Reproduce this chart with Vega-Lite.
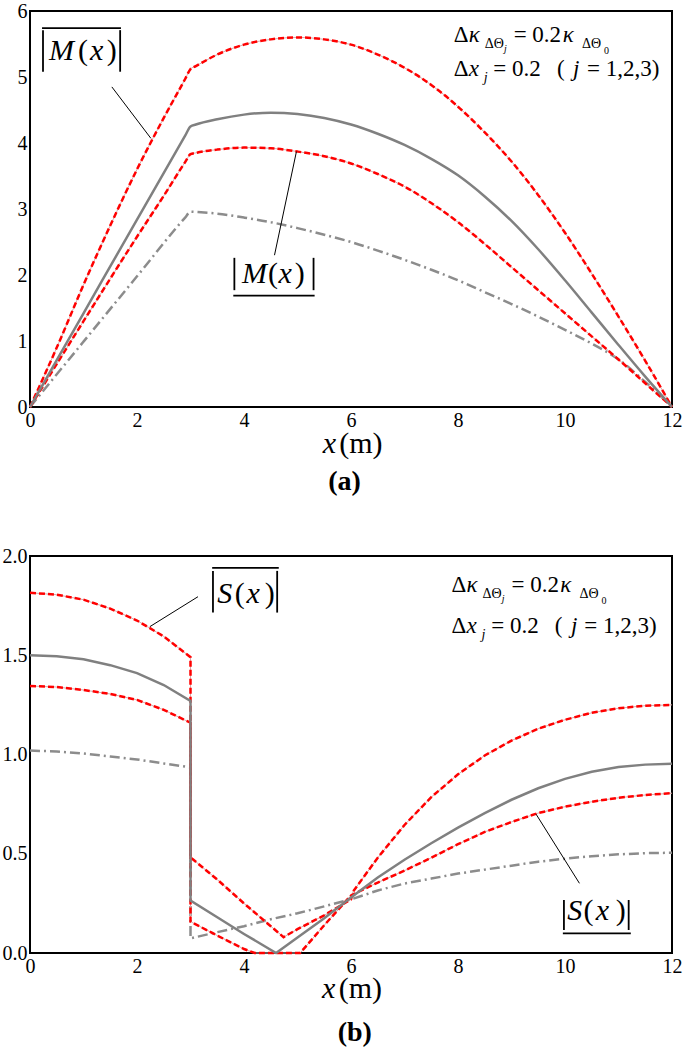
{
"$schema": "https://vega.github.io/schema/vega-lite/v6.json",
"background": "white",
"padding": {"left": 1, "top": 0, "right": 0, "bottom": 0},
"bounds": "flush",
"spacing": 149,
"config": {
  "font": "'Liberation Serif', 'Times New Roman', 'DejaVu Serif', serif",
  "view": {"stroke": "black", "strokeWidth": 2},
  "text": {"font": "'Liberation Serif', 'Times New Roman', 'DejaVu Serif', serif", "color": "black"},
  "axis": {"grid": false, "domain": false, "ticks": false, "labelFont": "'Liberation Serif', 'Times New Roman', 'DejaVu Serif', serif", "labelFontSize": 20, "labelColor": "black", "labelPadding": 3, "labelFlush": false, "labelOverlap": false},
  "axisY": {"minExtent": 28, "maxExtent": 28}
},
"datasets": {
"a": [
{"s":"u","i":0,"x":0,"y":0},{"s":"u","i":1,"x":0.5,"y":0.9},{"s":"u","i":2,"x":1,"y":1.85},{"s":"u","i":3,"x":1.5,"y":2.75},{"s":"u","i":4,"x":2,"y":3.6},{"s":"u","i":5,"x":2.5,"y":4.38},{"s":"u","i":6,"x":2.9,"y":4.97},{"s":"u","i":7,"x":3,"y":5.12},{"s":"u","i":8,"x":3.1,"y":5.165},{"s":"u","i":9,"x":3.5,"y":5.34},{"s":"u","i":10,"x":4,"y":5.49},{"s":"u","i":11,"x":4.5,"y":5.57},{"s":"u","i":12,"x":5,"y":5.6},{"s":"u","i":13,"x":5.5,"y":5.57},{"s":"u","i":14,"x":6,"y":5.49},{"s":"u","i":15,"x":6.5,"y":5.34},{"s":"u","i":16,"x":7,"y":5.14},{"s":"u","i":17,"x":7.5,"y":4.88},{"s":"u","i":18,"x":8,"y":4.55},{"s":"u","i":19,"x":8.5,"y":4.16},{"s":"u","i":20,"x":9,"y":3.72},{"s":"u","i":21,"x":9.5,"y":3.21},{"s":"u","i":22,"x":10,"y":2.64},{"s":"u","i":23,"x":10.5,"y":2.02},{"s":"u","i":24,"x":11,"y":1.37},{"s":"u","i":25,"x":11.5,"y":0.7},{"s":"u","i":26,"x":12,"y":0},
{"s":"m","i":0,"x":0,"y":0},{"s":"m","i":1,"x":1,"y":1.42},{"s":"m","i":2,"x":2,"y":2.84},{"s":"m","i":3,"x":2.9,"y":4.11},{"s":"m","i":4,"x":3,"y":4.25},{"s":"m","i":5,"x":3.1,"y":4.28},{"s":"m","i":6,"x":3.5,"y":4.36},{"s":"m","i":7,"x":4,"y":4.43},{"s":"m","i":8,"x":4.5,"y":4.46},{"s":"m","i":9,"x":5,"y":4.44},{"s":"m","i":10,"x":5.5,"y":4.38},{"s":"m","i":11,"x":6,"y":4.28},{"s":"m","i":12,"x":6.5,"y":4.14},{"s":"m","i":13,"x":7,"y":3.97},{"s":"m","i":14,"x":7.5,"y":3.76},{"s":"m","i":15,"x":8,"y":3.51},{"s":"m","i":16,"x":8.5,"y":3.19},{"s":"m","i":17,"x":9,"y":2.82},{"s":"m","i":18,"x":9.5,"y":2.39},{"s":"m","i":19,"x":10,"y":1.92},{"s":"m","i":20,"x":10.5,"y":1.43},{"s":"m","i":21,"x":11,"y":0.94},{"s":"m","i":22,"x":11.5,"y":0.46},{"s":"m","i":23,"x":12,"y":0},
{"s":"l","i":0,"x":0,"y":0},{"s":"l","i":1,"x":1,"y":1.3},{"s":"l","i":2,"x":2,"y":2.58},{"s":"l","i":3,"x":2.5,"y":3.2},{"s":"l","i":4,"x":2.9,"y":3.71},{"s":"l","i":5,"x":3,"y":3.83},{"s":"l","i":6,"x":3.1,"y":3.85},{"s":"l","i":7,"x":3.5,"y":3.9},{"s":"l","i":8,"x":4,"y":3.93},{"s":"l","i":9,"x":4.5,"y":3.92},{"s":"l","i":10,"x":5,"y":3.87},{"s":"l","i":11,"x":5.5,"y":3.8},{"s":"l","i":12,"x":6,"y":3.69},{"s":"l","i":13,"x":6.5,"y":3.53},{"s":"l","i":14,"x":7,"y":3.34},{"s":"l","i":15,"x":7.5,"y":3.09},{"s":"l","i":16,"x":8,"y":2.8},{"s":"l","i":17,"x":8.5,"y":2.47},{"s":"l","i":18,"x":9,"y":2.12},{"s":"l","i":19,"x":9.5,"y":1.77},{"s":"l","i":20,"x":10,"y":1.42},{"s":"l","i":21,"x":10.5,"y":1.07},{"s":"l","i":22,"x":11,"y":0.72},{"s":"l","i":23,"x":11.5,"y":0.36},{"s":"l","i":24,"x":12,"y":0},
{"s":"d","i":0,"x":0,"y":0},{"s":"d","i":1,"x":1,"y":0.99},{"s":"d","i":2,"x":2,"y":1.98},{"s":"d","i":3,"x":2.9,"y":2.87},{"s":"d","i":4,"x":3,"y":2.96},{"s":"d","i":5,"x":3.1,"y":2.955},{"s":"d","i":6,"x":3.5,"y":2.93},{"s":"d","i":7,"x":4,"y":2.87},{"s":"d","i":8,"x":4.5,"y":2.8},{"s":"d","i":9,"x":5,"y":2.71},{"s":"d","i":10,"x":5.5,"y":2.61},{"s":"d","i":11,"x":6,"y":2.5},{"s":"d","i":12,"x":6.5,"y":2.37},{"s":"d","i":13,"x":7,"y":2.23},{"s":"d","i":14,"x":7.5,"y":2.08},{"s":"d","i":15,"x":8,"y":1.92},{"s":"d","i":16,"x":8.5,"y":1.74},{"s":"d","i":17,"x":9,"y":1.56},{"s":"d","i":18,"x":9.5,"y":1.37},{"s":"d","i":19,"x":10,"y":1.17},{"s":"d","i":20,"x":10.5,"y":0.96},{"s":"d","i":21,"x":11,"y":0.72},{"s":"d","i":22,"x":11.5,"y":0.38},{"s":"d","i":23,"x":12,"y":0}
],
"b": [
{"s":"u","i":0,"x":0,"y":1.815},{"s":"u","i":1,"x":0.5,"y":1.805},{"s":"u","i":2,"x":1,"y":1.78},{"s":"u","i":3,"x":1.5,"y":1.735},{"s":"u","i":4,"x":2,"y":1.675},{"s":"u","i":5,"x":2.5,"y":1.595},{"s":"u","i":6,"x":3,"y":1.49},{"s":"u","i":7,"x":3,"y":0.482},{"s":"u","i":8,"x":3.5,"y":0.37},{"s":"u","i":9,"x":4,"y":0.25},{"s":"u","i":10,"x":4.5,"y":0.135},{"s":"u","i":11,"x":4.74,"y":0.08},{"s":"u","i":12,"x":5,"y":0.12},{"s":"u","i":13,"x":5.5,"y":0.19},{"s":"u","i":14,"x":6,"y":0.27},{"s":"u","i":15,"x":6.04,"y":0.31},{"s":"u","i":16,"x":6.5,"y":0.48},{"s":"u","i":17,"x":7,"y":0.645},{"s":"u","i":18,"x":7.5,"y":0.785},{"s":"u","i":19,"x":8,"y":0.9},{"s":"u","i":20,"x":8.5,"y":0.995},{"s":"u","i":21,"x":9,"y":1.07},{"s":"u","i":22,"x":9.5,"y":1.13},{"s":"u","i":23,"x":10,"y":1.175},{"s":"u","i":24,"x":10.5,"y":1.21},{"s":"u","i":25,"x":11,"y":1.233},{"s":"u","i":26,"x":11.5,"y":1.246},{"s":"u","i":27,"x":12,"y":1.25},
{"s":"m","i":0,"x":0,"y":1.5},{"s":"m","i":1,"x":0.5,"y":1.495},{"s":"m","i":2,"x":1,"y":1.48},{"s":"m","i":3,"x":1.5,"y":1.45},{"s":"m","i":4,"x":2,"y":1.41},{"s":"m","i":5,"x":2.5,"y":1.35},{"s":"m","i":6,"x":3,"y":1.27},{"s":"m","i":7,"x":3,"y":0.264},{"s":"m","i":8,"x":3.5,"y":0.18},{"s":"m","i":9,"x":4,"y":0.096},{"s":"m","i":10,"x":4.6,"y":0},{"s":"m","i":11,"x":5,"y":0.078},{"s":"m","i":12,"x":5.5,"y":0.175},{"s":"m","i":13,"x":6,"y":0.28},{"s":"m","i":14,"x":6.5,"y":0.38},{"s":"m","i":15,"x":7,"y":0.47},{"s":"m","i":16,"x":7.5,"y":0.553},{"s":"m","i":17,"x":8,"y":0.632},{"s":"m","i":18,"x":8.5,"y":0.705},{"s":"m","i":19,"x":9,"y":0.772},{"s":"m","i":20,"x":9.5,"y":0.83},{"s":"m","i":21,"x":10,"y":0.877},{"s":"m","i":22,"x":10.5,"y":0.913},{"s":"m","i":23,"x":11,"y":0.937},{"s":"m","i":24,"x":11.5,"y":0.949},{"s":"m","i":25,"x":12,"y":0.953},
{"s":"l","i":0,"x":0,"y":1.345},{"s":"l","i":1,"x":0.5,"y":1.34},{"s":"l","i":2,"x":1,"y":1.325},{"s":"l","i":3,"x":1.5,"y":1.305},{"s":"l","i":4,"x":2,"y":1.275},{"s":"l","i":5,"x":2.5,"y":1.225},{"s":"l","i":6,"x":3,"y":1.16},{"s":"l","i":7,"x":3,"y":0.158},{"s":"l","i":8,"x":3.5,"y":0.088},{"s":"l","i":9,"x":4,"y":0.02},{"s":"l","i":10,"x":4.2,"y":0},{"s":"l","i":11,"x":5.05,"y":0},{"s":"l","i":12,"x":5.5,"y":0.14},{"s":"l","i":13,"x":6,"y":0.29},{"s":"l","i":14,"x":6.5,"y":0.355},{"s":"l","i":15,"x":7,"y":0.415},{"s":"l","i":16,"x":7.5,"y":0.48},{"s":"l","i":17,"x":8,"y":0.548},{"s":"l","i":18,"x":8.5,"y":0.61},{"s":"l","i":19,"x":9,"y":0.66},{"s":"l","i":20,"x":9.5,"y":0.705},{"s":"l","i":21,"x":10,"y":0.737},{"s":"l","i":22,"x":10.5,"y":0.762},{"s":"l","i":23,"x":11,"y":0.782},{"s":"l","i":24,"x":11.5,"y":0.796},{"s":"l","i":25,"x":12,"y":0.805},
{"s":"d","i":0,"x":0,"y":1.02},{"s":"d","i":1,"x":0.5,"y":1.015},{"s":"d","i":2,"x":1,"y":1.005},{"s":"d","i":3,"x":1.5,"y":0.99},{"s":"d","i":4,"x":2,"y":0.975},{"s":"d","i":5,"x":2.5,"y":0.955},{"s":"d","i":6,"x":3,"y":0.935},{"s":"d","i":7,"x":3,"y":0.074},{"s":"d","i":8,"x":3.5,"y":0.105},{"s":"d","i":9,"x":4,"y":0.135},{"s":"d","i":10,"x":4.5,"y":0.17},{"s":"d","i":11,"x":5,"y":0.2},{"s":"d","i":12,"x":5.5,"y":0.235},{"s":"d","i":13,"x":6,"y":0.27},{"s":"d","i":14,"x":6.5,"y":0.315},{"s":"d","i":15,"x":7,"y":0.35},{"s":"d","i":16,"x":7.5,"y":0.375},{"s":"d","i":17,"x":8,"y":0.4},{"s":"d","i":18,"x":8.5,"y":0.42},{"s":"d","i":19,"x":9,"y":0.44},{"s":"d","i":20,"x":9.5,"y":0.46},{"s":"d","i":21,"x":10,"y":0.475},{"s":"d","i":22,"x":10.5,"y":0.488},{"s":"d","i":23,"x":11,"y":0.497},{"s":"d","i":24,"x":11.5,"y":0.503},{"s":"d","i":25,"x":12,"y":0.505}
],
"seg": [
{"p":"a","k":"lead","x":1.53,"y":4.85,"x2":2.26,"y2":4.07},
{"p":"a","k":"lead","x":4.57,"y":2.3,"x2":4.98,"y2":3.87},
{"p":"a","k":"bar","x":0.243,"y":5.71,"x2":0.243,"y2":5.08},
{"p":"a","k":"bar","x":1.685,"y":5.71,"x2":1.685,"y2":5.08},
{"p":"a","k":"bar","x":0.225,"y":5.74,"x2":1.7,"y2":5.74},
{"p":"a","k":"bar","x":3.82,"y":2.26,"x2":3.82,"y2":1.77},
{"p":"a","k":"bar","x":5.3,"y":2.26,"x2":5.3,"y2":1.77},
{"p":"a","k":"bar","x":3.8,"y":1.686,"x2":5.32,"y2":1.686},
{"p":"b","k":"lead","x":3.14,"y":1.795,"x2":2.24,"y2":1.644},
{"p":"b","k":"lead","x":10.27,"y":0.351,"x2":9.46,"y2":0.699},
{"p":"b","k":"bar","x":3.42,"y":1.925,"x2":3.42,"y2":1.715},
{"p":"b","k":"bar","x":4.62,"y":1.925,"x2":4.62,"y2":1.715},
{"p":"b","k":"bar","x":3.405,"y":1.94,"x2":4.65,"y2":1.94},
{"p":"b","k":"bar","x":9.98,"y":0.267,"x2":9.98,"y2":0.116},
{"p":"b","k":"bar","x":11.19,"y":0.267,"x2":11.19,"y2":0.116},
{"p":"b","k":"bar","x":9.96,"y":0.099,"x2":11.23,"y2":0.099}
],
"txt": [
{"p":"a","k":"up","t":"Δ","x":7.92,"y":5.53},
{"p":"a","k":"it","t":"κ","x":8.2,"y":5.53},
{"p":"a","k":"sub","t":"ΔΘ","x":8.5,"y":5.44},
{"p":"a","k":"ssubit","t":"j","x":8.86,"y":5.38},
{"p":"a","k":"up","t":"= 0.2","x":9.04,"y":5.53},
{"p":"a","k":"it","t":"κ","x":9.96,"y":5.53},
{"p":"a","k":"sub","t":"ΔΘ","x":10.32,"y":5.44},
{"p":"a","k":"ssub","t":"0","x":10.73,"y":5.35},
{"p":"a","k":"up","t":"Δ","x":7.92,"y":5.015},
{"p":"a","k":"it","t":"x","x":8.2,"y":5.015},
{"p":"a","k":"subit","t":"j","x":8.48,"y":4.925},
{"p":"a","k":"up","t":"= 0.2","x":8.66,"y":5.015},
{"p":"a","k":"up","t":"(","x":9.85,"y":5.015},
{"p":"a","k":"it","t":"j","x":10.15,"y":5.015},
{"p":"a","k":"up","t":"= 1,2,3)","x":10.41,"y":5.015},
{"p":"a","k":"labit","t":"M","x":0.59,"y":5.26},
{"p":"a","k":"labup","t":"(","x":0.99,"y":5.26},
{"p":"a","k":"labit","t":"x","x":1.245,"y":5.26},
{"p":"a","k":"labup","t":")","x":1.53,"y":5.26},
{"p":"a","k":"labit","t":"M","x":4.195,"y":1.88},
{"p":"a","k":"labup","t":"(","x":4.54,"y":1.88},
{"p":"a","k":"labit","t":"x","x":4.77,"y":1.88},
{"p":"a","k":"labup","t":")","x":5.04,"y":1.88},
{"p":"a","k":"axi","t":"x","x":5.47,"y":-0.7},
{"p":"a","k":"axu","t":"(m)","x":5.78,"y":-0.7},
{"p":"a","k":"cap","t":"(a)","x":5.88,"y":-1.26},
{"p":"b","k":"up","t":"Δ","x":7.88,"y":1.82},
{"p":"b","k":"it","t":"κ","x":8.16,"y":1.82},
{"p":"b","k":"sub","t":"ΔΘ","x":8.46,"y":1.79},
{"p":"b","k":"ssubit","t":"j","x":8.82,"y":1.77},
{"p":"b","k":"up","t":"= 0.2","x":9.0,"y":1.82},
{"p":"b","k":"it","t":"κ","x":9.91,"y":1.82},
{"p":"b","k":"sub","t":"ΔΘ","x":10.27,"y":1.79},
{"p":"b","k":"ssub","t":"0","x":10.68,"y":1.76},
{"p":"b","k":"up","t":"Δ","x":7.88,"y":1.61},
{"p":"b","k":"it","t":"x","x":8.16,"y":1.61},
{"p":"b","k":"subit","t":"j","x":8.44,"y":1.58},
{"p":"b","k":"up","t":"= 0.2","x":8.62,"y":1.61},
{"p":"b","k":"up","t":"(","x":9.81,"y":1.61},
{"p":"b","k":"it","t":"j","x":10.11,"y":1.61},
{"p":"b","k":"up","t":"= 1,2,3)","x":10.36,"y":1.61},
{"p":"b","k":"labit","t":"S","x":3.64,"y":1.763},
{"p":"b","k":"labup","t":"(","x":3.92,"y":1.763},
{"p":"b","k":"labit","t":"x","x":4.17,"y":1.763},
{"p":"b","k":"labup","t":")","x":4.48,"y":1.763},
{"p":"b","k":"labit","t":"S","x":10.18,"y":0.166},
{"p":"b","k":"labup","t":"(","x":10.44,"y":0.166},
{"p":"b","k":"labit","t":"x","x":10.7,"y":0.166},
{"p":"b","k":"labup","t":")","x":11.04,"y":0.166},
{"p":"b","k":"axi","t":"x","x":5.46,"y":-0.227},
{"p":"b","k":"axu","t":"(m)","x":5.77,"y":-0.227},
{"p":"b","k":"cap","t":"(b)","x":6.07,"y":-0.443}
]
},
"vconcat": [
{
 "width": 642, "height": 396,
 "encoding": {
   "x": {"field": "x", "type": "quantitative", "scale": {"domain": [0, 12], "nice": false, "zero": false}, "axis": {"values": [0,2,4,6,8,10,12], "format": "d", "title": null}},
   "y": {"field": "y", "type": "quantitative", "scale": {"domain": [0, 6], "nice": false}, "axis": {"values": [0,1,2,3,4,5,6], "format": "d", "title": null}}
 },
 "layer": [
  {"data": {"name": "a"}, "transform": [{"filter": "datum.s=='d'"}], "mark": {"type": "line", "interpolate": "monotone", "color": "#8c8c8c", "strokeWidth": 2.5, "strokeDash": [10,4,2,4]}, "encoding": {"order": {"field": "i", "type": "quantitative"}}},
  {"data": {"name": "a"}, "transform": [{"filter": "datum.s=='u'||datum.s=='l'"}], "mark": {"type": "line", "interpolate": "monotone", "color": "#d8a8a8", "strokeWidth": 1}, "encoding": {"detail": {"field": "s"}, "order": {"field": "i", "type": "quantitative"}}},
  {"data": {"name": "a"}, "transform": [{"filter": "datum.s=='u'||datum.s=='l'"}], "mark": {"type": "line", "interpolate": "monotone", "color": "#ff0000", "strokeWidth": 2.5, "strokeDash": [6,3]}, "encoding": {"detail": {"field": "s"}, "order": {"field": "i", "type": "quantitative"}}},
  {"data": {"name": "a"}, "transform": [{"filter": "datum.s=='m'"}], "mark": {"type": "line", "interpolate": "monotone", "color": "#808080", "strokeWidth": 2.5}, "encoding": {"order": {"field": "i", "type": "quantitative"}}},
  {"data": {"name": "seg"}, "transform": [{"filter": "datum.p=='a'&&datum.k=='lead'"}], "mark": {"type": "rule", "color": "black", "strokeWidth": 1}, "encoding": {"x2": {"field": "x2"}, "y2": {"field": "y2"}}},
  {"data": {"name": "seg"}, "transform": [{"filter": "datum.p=='a'&&datum.k=='bar'"}], "mark": {"type": "rule", "color": "black", "strokeWidth": 1.8}, "encoding": {"x2": {"field": "x2"}, "y2": {"field": "y2"}}},
  {"data": {"name": "txt"}, "transform": [{"filter": "datum.p=='a'&&datum.k=='up'"}], "mark": {"type": "text", "font": "'Liberation Serif', 'Times New Roman', 'DejaVu Serif', serif", "fontSize": 23, "align": "left", "baseline": "alphabetic"}, "encoding": {"text": {"field": "t"}}},
  {"data": {"name": "txt"}, "transform": [{"filter": "datum.p=='a'&&datum.k=='it'"}], "mark": {"type": "text", "font": "'Liberation Serif', 'Times New Roman', 'DejaVu Serif', serif", "fontStyle": "italic", "fontSize": 23, "align": "left", "baseline": "alphabetic"}, "encoding": {"text": {"field": "t"}}},
  {"data": {"name": "txt"}, "transform": [{"filter": "datum.p=='a'&&datum.k=='sub'"}], "mark": {"type": "text", "font": "'Liberation Serif', 'Times New Roman', 'DejaVu Serif', serif", "fontSize": 14, "align": "left", "baseline": "alphabetic"}, "encoding": {"text": {"field": "t"}}},
  {"data": {"name": "txt"}, "transform": [{"filter": "datum.p=='a'&&datum.k=='subit'"}], "mark": {"type": "text", "font": "'Liberation Serif', 'Times New Roman', 'DejaVu Serif', serif", "fontStyle": "italic", "fontSize": 14, "align": "left", "baseline": "alphabetic"}, "encoding": {"text": {"field": "t"}}},
  {"data": {"name": "txt"}, "transform": [{"filter": "datum.p=='a'&&datum.k=='ssub'"}], "mark": {"type": "text", "font": "'Liberation Serif', 'Times New Roman', 'DejaVu Serif', serif", "fontSize": 10, "align": "left", "baseline": "alphabetic"}, "encoding": {"text": {"field": "t"}}},
  {"data": {"name": "txt"}, "transform": [{"filter": "datum.p=='a'&&datum.k=='ssubit'"}], "mark": {"type": "text", "font": "'Liberation Serif', 'Times New Roman', 'DejaVu Serif', serif", "fontStyle": "italic", "fontSize": 10, "align": "left", "baseline": "alphabetic"}, "encoding": {"text": {"field": "t"}}},
  {"data": {"name": "txt"}, "transform": [{"filter": "datum.p=='a'&&datum.k=='labit'"}], "mark": {"type": "text", "font": "'Liberation Serif', 'Times New Roman', 'DejaVu Serif', serif", "fontStyle": "italic", "fontSize": 30, "align": "center", "baseline": "alphabetic"}, "encoding": {"text": {"field": "t"}}},
  {"data": {"name": "txt"}, "transform": [{"filter": "datum.p=='a'&&datum.k=='labup'"}], "mark": {"type": "text", "font": "'Liberation Serif', 'Times New Roman', 'DejaVu Serif', serif", "fontSize": 30, "align": "center", "baseline": "alphabetic"}, "encoding": {"text": {"field": "t"}}},
  {"data": {"name": "txt"}, "transform": [{"filter": "datum.p=='a'&&datum.k=='axi'"}], "mark": {"type": "text", "font": "'Liberation Serif', 'Times New Roman', 'DejaVu Serif', serif", "fontStyle": "italic", "fontSize": 30, "align": "left", "baseline": "alphabetic"}, "encoding": {"text": {"field": "t"}}},
  {"data": {"name": "txt"}, "transform": [{"filter": "datum.p=='a'&&datum.k=='axu'"}], "mark": {"type": "text", "font": "'Liberation Serif', 'Times New Roman', 'DejaVu Serif', serif", "fontSize": 30, "align": "left", "baseline": "alphabetic"}, "encoding": {"text": {"field": "t"}}},
  {"data": {"name": "txt"}, "transform": [{"filter": "datum.p=='a'&&datum.k=='cap'"}], "mark": {"type": "text", "font": "'Liberation Serif', 'Times New Roman', 'DejaVu Serif', serif", "fontWeight": "bold", "fontSize": 28, "align": "center", "baseline": "alphabetic"}, "encoding": {"text": {"field": "t"}}}
 ]
},
{
 "width": 642, "height": 397,
 "encoding": {
   "x": {"field": "x", "type": "quantitative", "scale": {"domain": [0, 12], "nice": false, "zero": false}, "axis": {"values": [0,2,4,6,8,10,12], "format": "d", "title": null}},
   "y": {"field": "y", "type": "quantitative", "scale": {"domain": [0, 2], "nice": false}, "axis": {"values": [0,0.5,1,1.5,2], "format": ".1f", "title": null}}
 },
 "layer": [
  {"data": {"name": "b"}, "transform": [{"filter": "datum.s=='d'"}], "mark": {"type": "line", "color": "#8c8c8c", "strokeWidth": 2.5, "strokeDash": [10,4,2,4]}, "encoding": {"order": {"field": "i", "type": "quantitative"}}},
  {"data": {"name": "b"}, "transform": [{"filter": "datum.s=='u'||datum.s=='l'"}], "mark": {"type": "line", "color": "#d8a8a8", "strokeWidth": 1}, "encoding": {"detail": {"field": "s"}, "order": {"field": "i", "type": "quantitative"}}},
  {"data": {"name": "b"}, "transform": [{"filter": "datum.s=='u'||datum.s=='l'"}], "mark": {"type": "line", "color": "#ff0000", "strokeWidth": 2.5, "strokeDash": [6,3]}, "encoding": {"detail": {"field": "s"}, "order": {"field": "i", "type": "quantitative"}}},
  {"data": {"name": "b"}, "transform": [{"filter": "datum.s=='m'"}], "mark": {"type": "line", "color": "#808080", "strokeWidth": 2.5}, "encoding": {"order": {"field": "i", "type": "quantitative"}}},
  {"data": {"name": "seg"}, "transform": [{"filter": "datum.p=='b'&&datum.k=='lead'"}], "mark": {"type": "rule", "color": "black", "strokeWidth": 1}, "encoding": {"x2": {"field": "x2"}, "y2": {"field": "y2"}}},
  {"data": {"name": "seg"}, "transform": [{"filter": "datum.p=='b'&&datum.k=='bar'"}], "mark": {"type": "rule", "color": "black", "strokeWidth": 1.8}, "encoding": {"x2": {"field": "x2"}, "y2": {"field": "y2"}}},
  {"data": {"name": "txt"}, "transform": [{"filter": "datum.p=='b'&&datum.k=='up'"}], "mark": {"type": "text", "font": "'Liberation Serif', 'Times New Roman', 'DejaVu Serif', serif", "fontSize": 23, "align": "left", "baseline": "alphabetic"}, "encoding": {"text": {"field": "t"}}},
  {"data": {"name": "txt"}, "transform": [{"filter": "datum.p=='b'&&datum.k=='it'"}], "mark": {"type": "text", "font": "'Liberation Serif', 'Times New Roman', 'DejaVu Serif', serif", "fontStyle": "italic", "fontSize": 23, "align": "left", "baseline": "alphabetic"}, "encoding": {"text": {"field": "t"}}},
  {"data": {"name": "txt"}, "transform": [{"filter": "datum.p=='b'&&datum.k=='sub'"}], "mark": {"type": "text", "font": "'Liberation Serif', 'Times New Roman', 'DejaVu Serif', serif", "fontSize": 14, "align": "left", "baseline": "alphabetic"}, "encoding": {"text": {"field": "t"}}},
  {"data": {"name": "txt"}, "transform": [{"filter": "datum.p=='b'&&datum.k=='subit'"}], "mark": {"type": "text", "font": "'Liberation Serif', 'Times New Roman', 'DejaVu Serif', serif", "fontStyle": "italic", "fontSize": 14, "align": "left", "baseline": "alphabetic"}, "encoding": {"text": {"field": "t"}}},
  {"data": {"name": "txt"}, "transform": [{"filter": "datum.p=='b'&&datum.k=='ssub'"}], "mark": {"type": "text", "font": "'Liberation Serif', 'Times New Roman', 'DejaVu Serif', serif", "fontSize": 10, "align": "left", "baseline": "alphabetic"}, "encoding": {"text": {"field": "t"}}},
  {"data": {"name": "txt"}, "transform": [{"filter": "datum.p=='b'&&datum.k=='ssubit'"}], "mark": {"type": "text", "font": "'Liberation Serif', 'Times New Roman', 'DejaVu Serif', serif", "fontStyle": "italic", "fontSize": 10, "align": "left", "baseline": "alphabetic"}, "encoding": {"text": {"field": "t"}}},
  {"data": {"name": "txt"}, "transform": [{"filter": "datum.p=='b'&&datum.k=='labit'"}], "mark": {"type": "text", "font": "'Liberation Serif', 'Times New Roman', 'DejaVu Serif', serif", "fontStyle": "italic", "fontSize": 30, "align": "center", "baseline": "alphabetic"}, "encoding": {"text": {"field": "t"}}},
  {"data": {"name": "txt"}, "transform": [{"filter": "datum.p=='b'&&datum.k=='labup'"}], "mark": {"type": "text", "font": "'Liberation Serif', 'Times New Roman', 'DejaVu Serif', serif", "fontSize": 30, "align": "center", "baseline": "alphabetic"}, "encoding": {"text": {"field": "t"}}},
  {"data": {"name": "txt"}, "transform": [{"filter": "datum.p=='b'&&datum.k=='axi'"}], "mark": {"type": "text", "font": "'Liberation Serif', 'Times New Roman', 'DejaVu Serif', serif", "fontStyle": "italic", "fontSize": 30, "align": "left", "baseline": "alphabetic"}, "encoding": {"text": {"field": "t"}}},
  {"data": {"name": "txt"}, "transform": [{"filter": "datum.p=='b'&&datum.k=='axu'"}], "mark": {"type": "text", "font": "'Liberation Serif', 'Times New Roman', 'DejaVu Serif', serif", "fontSize": 30, "align": "left", "baseline": "alphabetic"}, "encoding": {"text": {"field": "t"}}},
  {"data": {"name": "txt"}, "transform": [{"filter": "datum.p=='b'&&datum.k=='cap'"}], "mark": {"type": "text", "font": "'Liberation Serif', 'Times New Roman', 'DejaVu Serif', serif", "fontWeight": "bold", "fontSize": 28, "align": "center", "baseline": "alphabetic"}, "encoding": {"text": {"field": "t"}}}
 ]
}
]
}
